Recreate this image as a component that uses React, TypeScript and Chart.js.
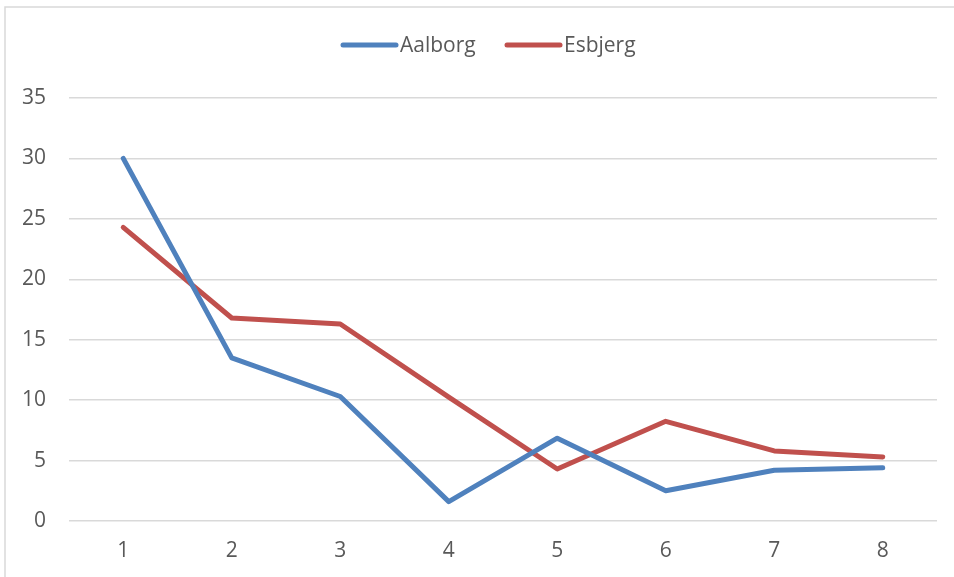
import React, { useEffect, useRef } from "react";
import { Chart, registerables } from "chart.js";

Chart.register(...registerables);

const categories = ["1", "2", "3", "4", "5", "6", "7", "8"];
const aalborg = [30, 13.5, 10.3, 1.6, 6.85, 2.5, 4.2, 4.4];
const esbjerg = [24.3, 16.8, 16.3, 10.25, 4.3, 8.25, 5.8, 5.3];
const seriesNames = ["Aalborg", "Esbjerg"];
const seriesColors = ["#4F81BD", "#C0504D"];

const FONT = "'Open Sans', 'Liberation Sans', sans-serif";

const framePlugin = {
  id: "frame",
  beforeDraw(chart: any) {
    const ctx = chart.ctx;
    ctx.save();
    ctx.fillStyle = "#ffffff";
    ctx.fillRect(0, 0, chart.width, chart.height);
    ctx.strokeStyle = "#D9D9D9";
    ctx.lineWidth = 1.5;
    ctx.beginPath();
    ctx.moveTo(5, chart.height);
    ctx.lineTo(5, 7);
    ctx.lineTo(chart.width, 7);
    ctx.stroke();
    ctx.restore();
  },
  afterDraw(chart: any) {
    const ctx = chart.ctx;
    ctx.save();
    ctx.font = `21px ${FONT}`;
    ctx.textBaseline = "middle";
    const y = 45;
    const items = [
      { x: 343, name: seriesNames[0], color: seriesColors[0] },
      { x: 507, name: seriesNames[1], color: seriesColors[1] },
    ];
    for (const it of items) {
      ctx.strokeStyle = it.color;
      ctx.lineWidth = 5;
      ctx.lineCap = "round";
      ctx.beginPath();
      ctx.moveTo(it.x, y);
      ctx.lineTo(it.x + 53, y);
      ctx.stroke();
      ctx.fillStyle = "#595959";
      ctx.fillText(it.name, it.x + 57, y + 1);
    }
    ctx.restore();
  },
};

export default function App() {
  const ref = useRef<HTMLCanvasElement>(null);
  useEffect(() => {
    const chart = new Chart(ref.current!, {
      type: "line",
      data: {
        labels: categories,
        datasets: [
          {
            label: seriesNames[0],
            data: aalborg,
            borderColor: seriesColors[0],
            backgroundColor: seriesColors[0],
            borderWidth: 5,
            pointRadius: 0,
            borderCapStyle: "round",
            borderJoinStyle: "round",
            tension: 0,
          },
          {
            label: seriesNames[1],
            data: esbjerg,
            borderColor: seriesColors[1],
            backgroundColor: seriesColors[1],
            borderWidth: 5,
            pointRadius: 0,
            borderCapStyle: "round",
            borderJoinStyle: "round",
            tension: 0,
          },
        ],
      },
      options: {
        animation: false,
        responsive: false,
        layout: { padding: { top: 98, right: 17, left: 0, bottom: 0 } },
        plugins: {
          legend: { display: false },
          tooltip: { enabled: false },
          title: { display: false },
        },
        scales: {
          x: {
            offset: true,
            grid: { display: false, drawTicks: false },
            border: { display: false },
            ticks: { color: "#595959", font: { family: FONT, size: 21 }, padding: 17 },
            afterFit(scale: any) {
              scale.height = 56;
            },
          },
          y: {
            min: 0,
            max: 35,
            ticks: { stepSize: 5, color: "#595959", font: { family: FONT, size: 21 }, padding: 23 },
            grid: { color: "#D9D9D9", lineWidth: 1.5, drawTicks: false },
            border: { display: false },
            afterFit(scale: any) {
              scale.width = 69;
            },
          },
        },
      },
      plugins: [framePlugin],
    } as any);
    return () => chart.destroy();
  }, []);
  return (
    <div style={{ position: "absolute", left: 0, top: 0, width: 954, height: 577 }}>
      <canvas ref={ref} width={954} height={577} style={{ display: "block" }} />
    </div>
  );
}
